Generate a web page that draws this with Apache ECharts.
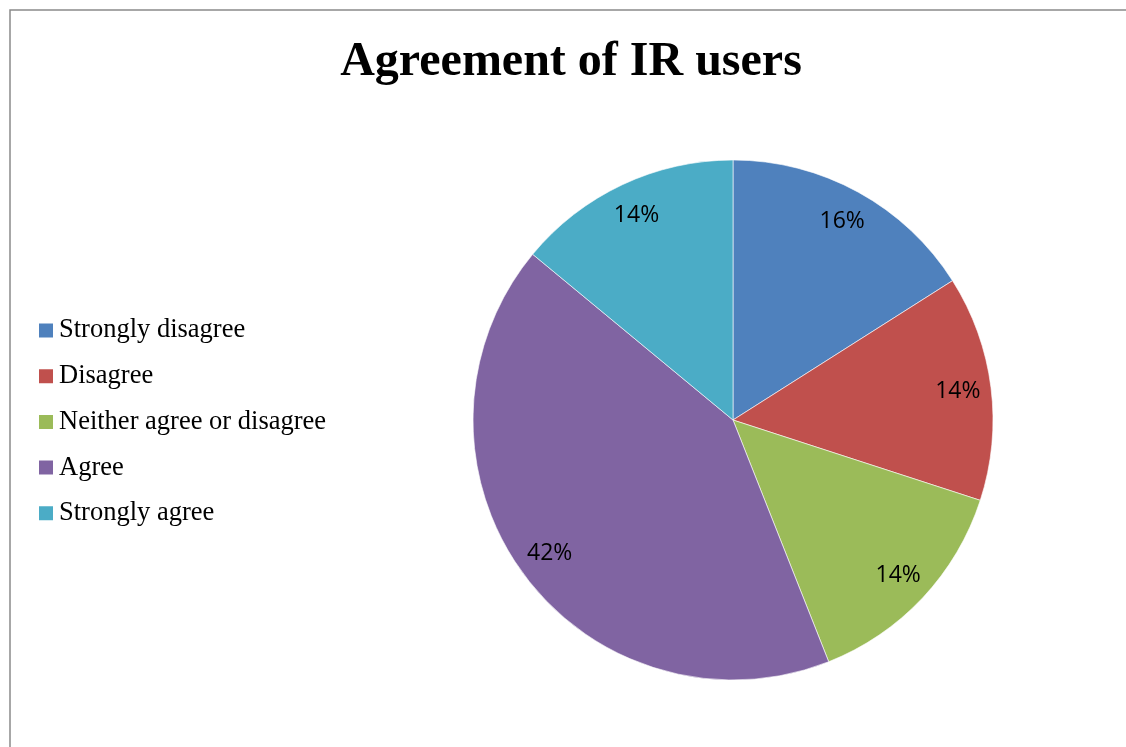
<!DOCTYPE html>
<html>
<head>
<meta charset="utf-8">
<title>Agreement of IR users</title>
<script src="https://cdn.jsdelivr.net/npm/echarts@6/dist/echarts.min.js"></script>
<style>
  html, body { margin: 0; padding: 0; background: #ffffff; }
  #chart { width: 1126px; height: 747px; }
</style>
</head>
<body>
<div id="chart"></div>
<script>
// Survey responses (percent of IR users)
const categories = ['Strongly disagree', 'Disagree', 'Neither agree or disagree', 'Agree', 'Strongly agree'];
const shares = [16, 14, 14, 42, 14];
const colors = ['#4F81BD', '#C0504D', '#9BBB59', '#8064A2', '#4BACC6'];

const pieData = categories.map((name, i) => ({ name, value: shares[i] }));

const chart = echarts.init(document.getElementById('chart'), null, { renderer: 'canvas' });

const center = [733, 420];
const radius = 260;

chart.setOption({
  animation: false,
  backgroundColor: '#ffffff',
  color: colors,
  graphic: [{
    type: 'rect',
    shape: { x: 10, y: 10, width: 1300, height: 900 },
    style: { fill: 'none', stroke: '#8a8a8a', lineWidth: 1.5 },
    silent: true,
    z: 0
  }],
  title: {
    text: 'Agreement of IR users',
    left: 566,
    textAlign: 'center',
    top: 34,
    textStyle: {
      fontFamily: '"Liberation Serif", "Times New Roman", serif',
      fontWeight: 'bold',
      fontSize: 48,
      color: '#000000'
    }
  },
  legend: {
    orient: 'vertical',
    left: 37,
    top: 317,
    padding: 0,
    icon: 'rect',
    itemWidth: 16,
    itemHeight: 16,
    itemGap: 18.7,
    itemTextGap: 5,
    data: categories,
    textStyle: {
      fontFamily: '"Liberation Serif", "Times New Roman", serif',
      fontSize: 26.5,
      lineHeight: 26,
      color: '#000000'
    }
  },
  series: [
    {
      name: 'Agreement',
      type: 'pie',
      center: center,
      radius: [0, radius],
      startAngle: 90,
      clockwise: true,
      data: pieData,
      label: { show: false },
      labelLine: { show: false },
      itemStyle: { borderColor: '#ffffff', borderWidth: 0.6 },
      emphasis: { disabled: true },
      z: 2
    },
    {
      // transparent ring that carries the percentage labels near the rim
      name: 'Agreement labels',
      type: 'pie',
      center: center,
      radius: [radius * 0.72, radius],
      startAngle: 90,
      clockwise: true,
      silent: true,
      data: pieData,
      itemStyle: { color: 'rgba(0,0,0,0)', borderWidth: 0 },
      label: {
        show: true,
        position: 'inside',
        formatter: '{d}%',
        fontFamily: '"Open Sans", "Noto Sans", sans-serif',
        fontSize: 23,
        color: '#000000'
      },
      labelLine: { show: false },
      emphasis: { disabled: true },
      z: 3
    }
  ]
});
</script>
</body>
</html>
